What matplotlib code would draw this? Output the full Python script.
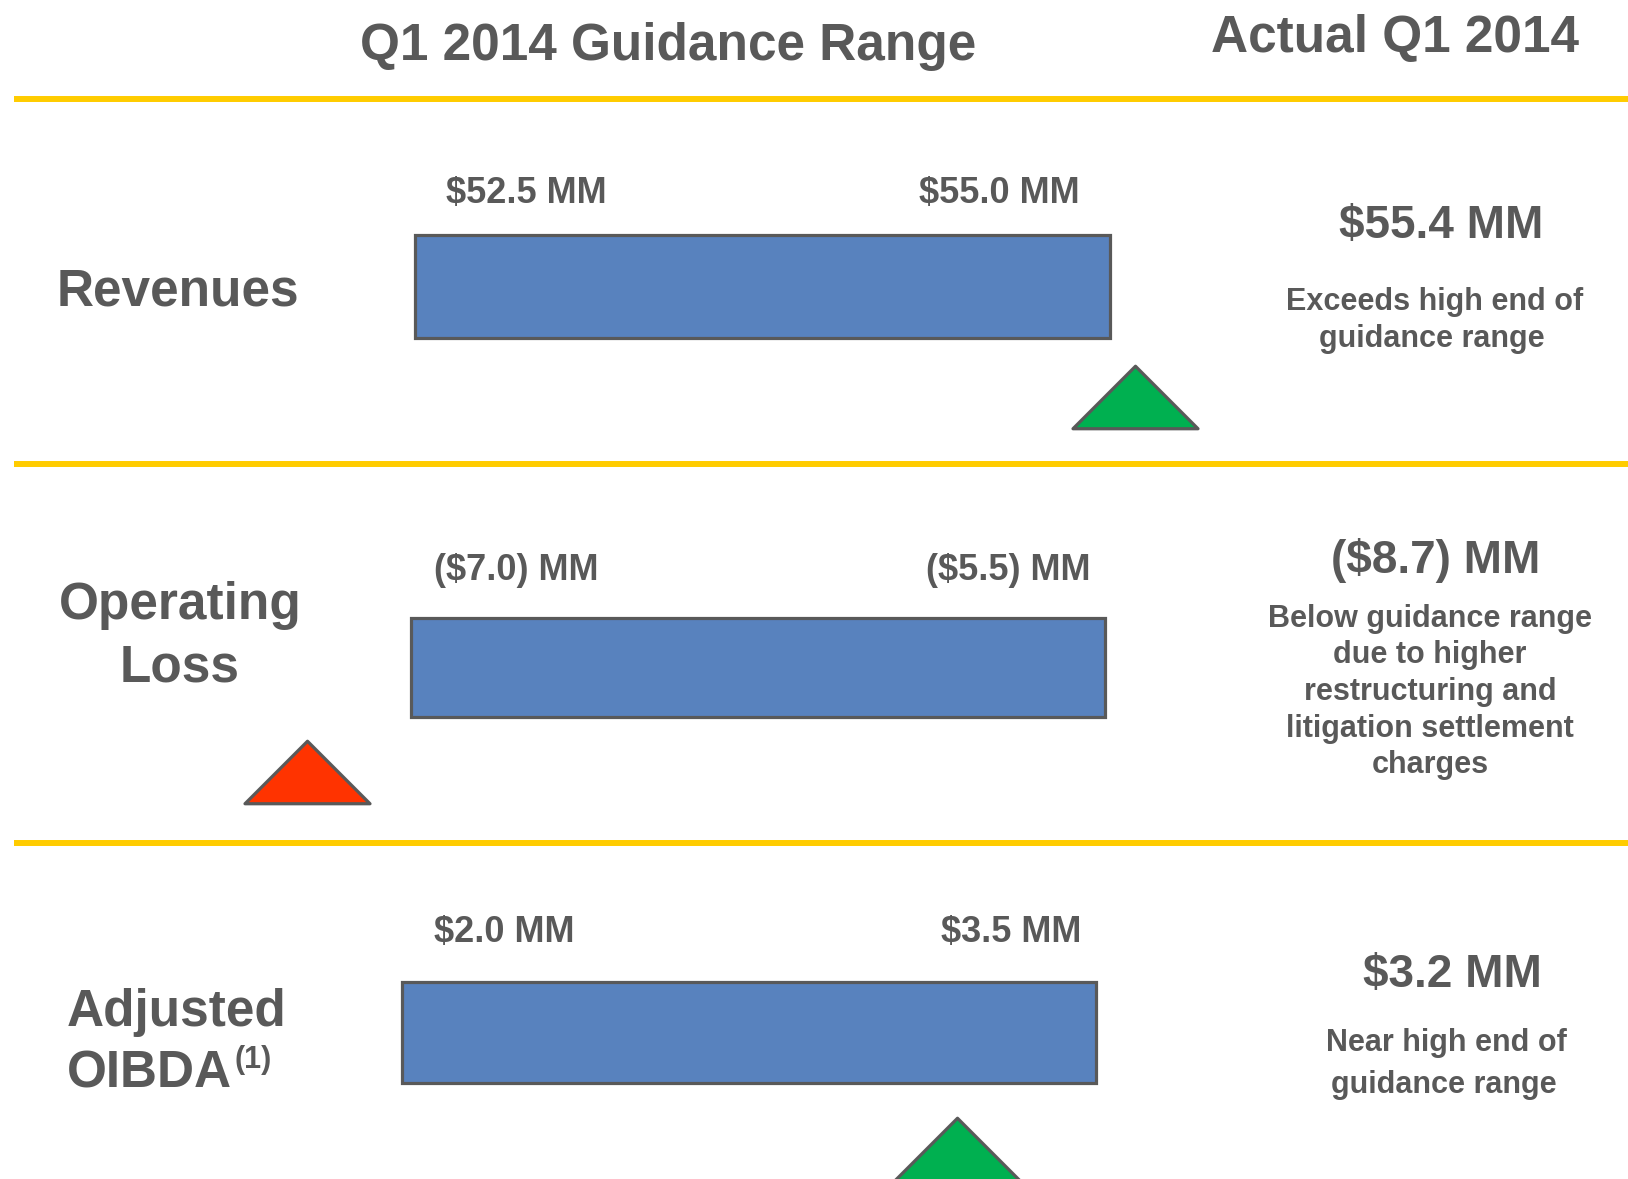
import matplotlib
matplotlib.use("Agg")
import matplotlib.pyplot as plt
from matplotlib.path import Path
from matplotlib import transforms

plt.rcParams['font.family'] = ['Liberation Sans', 'DejaVu Sans']
plt.rcParams['font.weight'] = 'bold'

# ---------------- data ----------------
metric_lines = [["Revenues"], ["Operating", "Loss"], ["Adjusted", "OIBDA"]]
footnote_mark = ["", "", "(1)"]
guidance_low = [52.5, -7.0, 2.0]
guidance_high = [55.0, -5.5, 3.5]
actual = [55.4, -8.7, 3.2]
low_labels = ["$52.5 MM", "($7.0) MM", "$2.0 MM"]
high_labels = ["$55.0 MM", "($5.5) MM", "$3.5 MM"]
actual_labels = ["$55.4 MM", "($8.7) MM", "$3.2 MM"]
notes = [["Exceeds high end of", "guidance range"],
         ["Below guidance range", "due to higher", "restructuring and",
          "litigation settlement", "charges"],
         ["Near high end of", "guidance range"]]
header_left = "Q1 2014 Guidance Range"
header_right = "Actual Q1 2014"

# ---------------- style / layout (pixels) ----------------
W, H = 1628, 1179
TEXT = "#595959"
YELLOW = "#FFCC00"
BAR = "#5882BE"
EDGE = "#595959"
GREEN = "#00B050"
RED = "#FF3300"
marker_colors = [GREEN, RED, GREEN]

sep_y = [99, 464, 843]
bar_left = [415, 411, 402]
bar_right = [1110, 1105, 1096]
bar_top = [235, 618, 982]
bar_bottom = [338, 717, 1083]
label_base = [203, 580, 942]
inset_l = [31, 23, 32]
inset_r = [30, 15, 15]
beyond_px = [25, 104, 0]
tri_center_y = [397, 772, 1149]

row_label_x = [178, 180, 67]
row_label_ha = ["center", "center", "left"]
row_label_base = [[305], [619, 681], [1026, 1087]]
sup_pos = (235, 1068)

val_x = [1441, 1436, 1452]
val_base = [238, 573, 987]
note_x = [[1435, 1432], [1430] * 5, [1446, 1444]]
note_base = [[310, 347], [627, 663, 700, 737, 773], [1051, 1093]]

fig = plt.figure(figsize=(W / 100, H / 100), dpi=100)
bg = fig.add_axes([0, 0, 1, 1])
bg.set_xlim(0, W)
bg.set_ylim(H, 0)
bg.axis("off")

# headers
bg.text(668, 60, header_left, fontsize=37, color=TEXT, ha="center", va="baseline")
bg.text(1395, 52, header_right, fontsize=37, color=TEXT, ha="center", va="baseline")

# separators
for y in sep_y:
    bg.plot([14, W], [y, y], color=YELLOW, lw=4.3, solid_capstyle="butt")

tri = Path([(-1, -0.5), (1, -0.5), (0, 0.5), (-1, -0.5)],
           [Path.MOVETO, Path.LINETO, Path.LINETO, Path.CLOSEPOLY])

for i in range(3):
    l, r, t, b = bar_left[i], bar_right[i], bar_top[i], bar_bottom[i]
    ax = fig.add_axes([l / W, 1 - b / H, (r - l) / W, (b - t) / H])
    ax.set_xlim(guidance_low[i], guidance_high[i])
    ax.set_ylim(0, 1)
    ax.axis("off")
    ax.barh(0.5, guidance_high[i] - guidance_low[i], left=guidance_low[i], height=1,
            color=BAR, edgecolor=EDGE, linewidth=2.3, clip_on=False)

    # range labels
    bg.text(l + inset_l[i], label_base[i], low_labels[i], fontsize=26, color=TEXT,
            ha="left", va="baseline")
    bg.text(r - inset_r[i], label_base[i], high_labels[i], fontsize=26, color=TEXT,
            ha="right", va="baseline")

    # actual marker
    ppu = (r - l) / (guidance_high[i] - guidance_low[i])
    v = actual[i]
    if v > guidance_high[i]:
        xm = guidance_high[i] + beyond_px[i] / ppu
    elif v < guidance_low[i]:
        xm = guidance_low[i] - beyond_px[i] / ppu
    else:
        xm = v
    trans = transforms.blended_transform_factory(ax.transData, bg.transData)
    ax.plot([xm], [tri_center_y[i]], transform=trans, marker=tri, markersize=90,
            markerfacecolor=marker_colors[i], markeredgecolor=EDGE,
            markeredgewidth=2.3, linestyle="none", clip_on=False)

    # row labels
    for line, yb in zip(metric_lines[i], row_label_base[i]):
        bg.text(row_label_x[i], yb, line, fontsize=37, color=TEXT,
                ha=row_label_ha[i], va="baseline")
    if footnote_mark[i]:
        bg.text(sup_pos[0], sup_pos[1], footnote_mark[i], fontsize=22, color=TEXT,
                ha="left", va="baseline")

    # actual values + notes
    bg.text(val_x[i], val_base[i], actual_labels[i], fontsize=33, color=TEXT,
            ha="center", va="baseline")
    for line, xx, yb in zip(notes[i], note_x[i], note_base[i]):
        bg.text(xx, yb, line, fontsize=22, color=TEXT, ha="center", va="baseline")

fig.savefig("out.png", dpi=100, facecolor="white")
